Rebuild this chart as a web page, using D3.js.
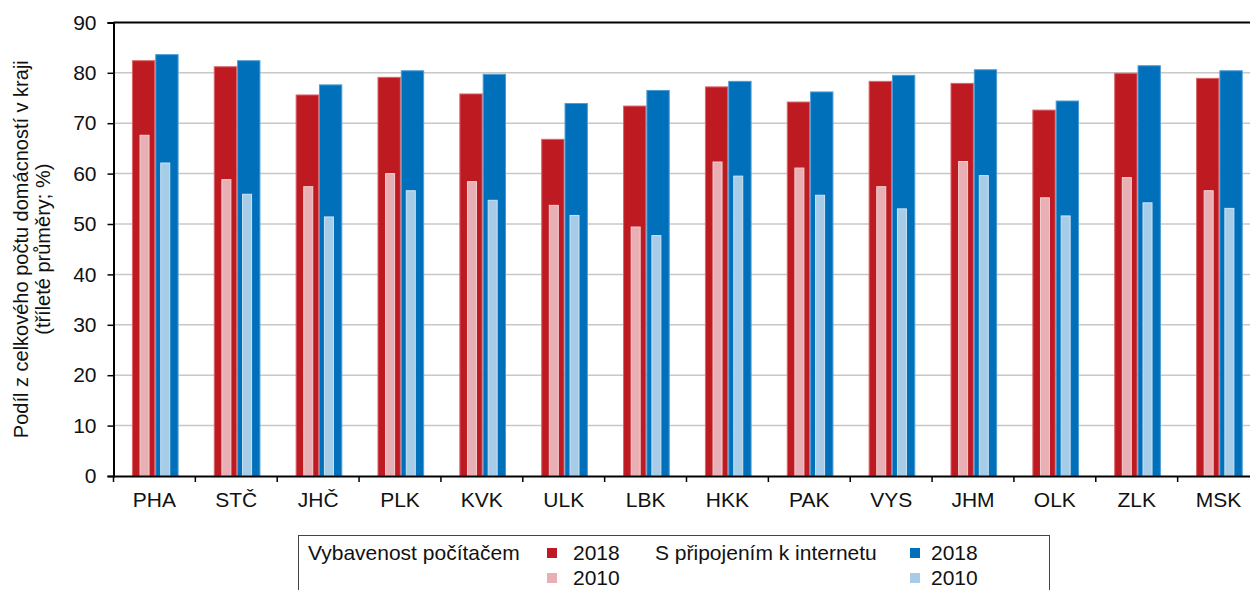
<!DOCTYPE html>
<html>
<head>
<meta charset="utf-8">
<script src="https://cdn.jsdelivr.net/npm/d3@7/dist/d3.min.js"></script>
<style>
  html, body { margin: 0; padding: 0; background: #fff; }
  svg { display: block; }
  text { font-family: "Liberation Sans", Arial, sans-serif; fill: #111; }
</style>
</head>
<body>
<svg id="chart" width="1250" height="590"></svg>
<script>
const categories = ["PHA", "STČ", "JHČ", "PLK", "KVK", "ULK", "LBK", "HKK", "PAK", "VYS", "JHM", "OLK", "ZLK", "MSK"];
const pc2018  = [82.5, 81.3, 75.7, 79.2, 75.9, 66.9, 73.5, 77.3, 74.3, 78.4, 78.0, 72.7, 80.0, 79.0];
const pc2010  = [67.7, 58.9, 57.5, 60.1, 58.5, 53.8, 49.5, 62.4, 61.2, 57.5, 62.5, 55.3, 59.3, 56.7];
const net2018 = [83.7, 82.5, 77.7, 80.5, 79.8, 74.0, 76.6, 78.4, 76.3, 79.6, 80.7, 74.5, 81.5, 80.5];
const net2010 = [62.2, 56.0, 51.5, 56.7, 54.8, 51.8, 47.8, 59.6, 55.8, 53.1, 59.7, 51.7, 54.3, 53.2];
const yTicks = [0, 10, 20, 30, 40, 50, 60, 70, 80, 90];
const yTitle1 = "Podíl z celkového počtu domácností v kraji";
const yTitle2 = "(tříleté průměry; %)";
const legendGroups = ["Vybavenost počítačem", "S připojením k internetu"];
const legendYears = ["2018", "2010"];

const colors = { pc2018: "#BE1A22", pc2010: "#E8B0B4", net2018: "#0070BB", net2010: "#A7CCE8" };
const strokes = { pc2018: "#D9666B", pc2010: "#F2D2D4", net2018: "#4D9BD3", net2010: "#CFE3F3" };
const FS = 21;

const svg = d3.select("#chart");
const mLeft = 113.5, mRight = 1259.5, mTop = 22.4, mBottom = 476;

const x = d3.scaleBand().domain(categories).range([mLeft, mRight]).padding(0);
const y = d3.scaleLinear().domain([0, 90]).range([mBottom, mTop]);
const bw = x.bandwidth();

const xWide = d3.scaleBand().domain(["pc", "net"]).range([0.225 * bw, 0.795 * bw]).padding(0);
const xNarrow = d3.scaleBand().domain(["pc", "net"]).range([0.318 * bw, 0.693 * bw]).paddingInner(0.517).paddingOuter(0);

// gridlines
svg.append("g").selectAll("line").data(yTicks.filter(t => t > 0 && t < 90)).join("line")
  .attr("x1", mLeft).attr("x2", 1250)
  .attr("y1", d => y(d)).attr("y2", d => y(d))
  .attr("stroke", "#c8c8c8").attr("stroke-width", 1.5);

// bars
const series = [
  { key: "pc2018", vals: pc2018, sc: xWide, s: "pc" },
  { key: "net2018", vals: net2018, sc: xWide, s: "net" },
  { key: "pc2010", vals: pc2010, sc: xNarrow, s: "pc" },
  { key: "net2010", vals: net2010, sc: xNarrow, s: "net" }
];
series.forEach(ser => {
  svg.append("g").selectAll("rect").data(categories).join("rect")
    .attr("x", (c) => x(c) + ser.sc(ser.s) + 0.5)
    .attr("width", ser.sc.bandwidth() - 1)
    .attr("y", (c, i) => y(ser.vals[i]) + 0.5)
    .attr("height", (c, i) => mBottom - y(ser.vals[i]) - 0.5)
    .attr("fill", colors[ser.key])
    .attr("stroke", strokes[ser.key])
    .attr("stroke-width", 1);
});

// top border line
svg.append("line").attr("x1", mLeft).attr("x2", 1250).attr("y1", mTop).attr("y2", mTop)
  .attr("stroke", "#000").attr("stroke-width", 2);

// y axis
const yAxis = d3.axisLeft(y).tickValues(yTicks).tickSize(6).tickPadding(11).tickFormat(d3.format("d"));
const gy = svg.append("g").attr("transform", `translate(${mLeft},0)`).call(yAxis);
gy.select(".domain").attr("stroke", "#000").attr("stroke-width", 2);
gy.selectAll(".tick line").attr("stroke", "#000").attr("stroke-width", 1.5);
gy.selectAll(".tick text").attr("font-size", FS).style("font-family", '"Liberation Sans", Arial, sans-serif').attr("fill", "#111");

// x axis
const xAxis = d3.axisBottom(x).tickSize(0).tickPadding(16);
const gx = svg.append("g").attr("transform", `translate(0,${mBottom})`).call(xAxis);
gx.select(".domain").attr("stroke", "#000").attr("stroke-width", 2);
gx.selectAll(".tick text").attr("font-size", FS).style("font-family", '"Liberation Sans", Arial, sans-serif').attr("fill", "#111");
// band boundary ticks
svg.append("g").selectAll("line").data(categories).join("line")
  .attr("x1", c => x(c)).attr("x2", c => x(c))
  .attr("y1", mBottom).attr("y2", mBottom + 6)
  .attr("stroke", "#000").attr("stroke-width", 1.5);

// y title
const midY = (mTop + mBottom) / 2;
svg.append("text").attr("transform", `translate(28,${midY}) rotate(-90)`)
  .attr("text-anchor", "middle").attr("font-size", 20).text(yTitle1);
svg.append("text").attr("transform", `translate(50,${midY}) rotate(-90)`)
  .attr("text-anchor", "middle").attr("font-size", 20).text(yTitle2);

// legend
const lg = svg.append("g");
lg.append("rect").attr("x", 298.5).attr("y", 535.5).attr("width", 751).attr("height", 80)
  .attr("fill", "#fff").attr("stroke", "#444").attr("stroke-width", 1);
const row1 = 560, row2 = 585;
lg.append("text").attr("x", 308).attr("y", row1).attr("font-size", FS).text(legendGroups[0]);
lg.append("text").attr("x", 655).attr("y", row1).attr("font-size", FS).text(legendGroups[1]);
const items = [
  { k: "pc2018", sx: 547, tx: 573, ty: row1, t: legendYears[0] },
  { k: "pc2010", sx: 547, tx: 573, ty: row2, t: legendYears[1] },
  { k: "net2018", sx: 910, tx: 931, ty: row1, t: legendYears[0] },
  { k: "net2010", sx: 910, tx: 931, ty: row2, t: legendYears[1] }
];
items.forEach(it => {
  lg.append("rect").attr("x", it.sx).attr("y", it.ty - 12).attr("width", 10).attr("height", 10).attr("fill", colors[it.k]);
  lg.append("text").attr("x", it.tx).attr("y", it.ty).attr("font-size", FS).text(it.t);
});
</script>
</body>
</html>
